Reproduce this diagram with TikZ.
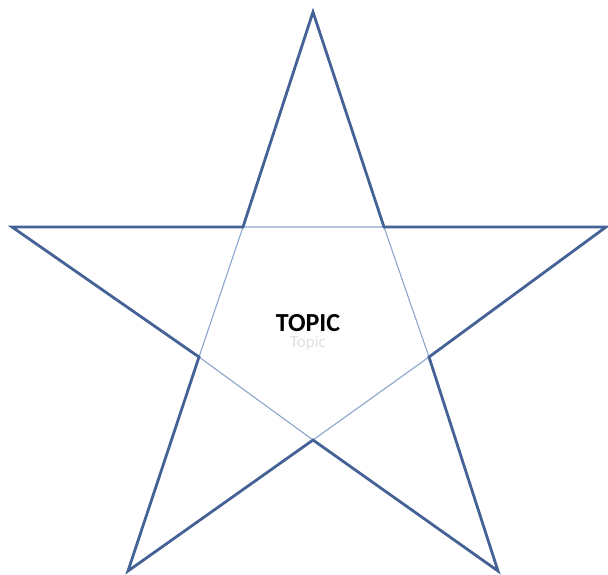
\documentclass[tikz,border=0pt]{standalone}
\usepackage{fontspec}
\setmainfont{Carlito}
\usepackage{tikz}
\usetikzlibrary{positioning}
\definecolor{starblue}{RGB}{68,98,150}
\definecolor{innerblue}{RGB}{140,165,205}

\begin{document}
\begin{tikzpicture}[x=1pt, y=-1pt,
      outer/.style={draw=starblue, line width=2.8pt, line join=miter},
      inner/.style={draw=innerblue, line width=1.1pt},
      label/.style={font=\fontsize{26}{28}\selectfont\bfseries, text=black, inner sep=0pt},
      ghost/.style={font=\fontsize{17}{19}\selectfont, text=black!12, inner sep=0pt},
    ]
    \useasboundingbox (0,0) rectangle (608,574);

    %% --- star tips ---
    \coordinate (top)   at (313, 12);
    \coordinate (left)  at (12, 227);
    \coordinate (right) at (606, 227);
    \coordinate (bl)    at (128, 571);
    \coordinate (br)    at (498, 571);

    %% --- inner pentagon ---
    \coordinate (ia) at (243, 227);
    \coordinate (ib) at (384, 227);
    \coordinate (ic) at (429, 357);
    \coordinate (id) at (313, 440);
    \coordinate (ie) at (199, 357);

    \draw[inner] (ia) -- (ib) -- (ic) -- (id) -- (ie) -- cycle;
    \draw[outer] (top) -- (ib) -- (right) -- (ic) -- (br) -- (id)
      -- (bl) -- (ie) -- (left) -- (ia) -- cycle;

    %% --- text ---
    \node[label] (topic) at (308, 323) {TOPIC};
    \node[ghost, below=4pt of topic.south] (shadow) {Topic};

  \end{tikzpicture}
\end{document}
